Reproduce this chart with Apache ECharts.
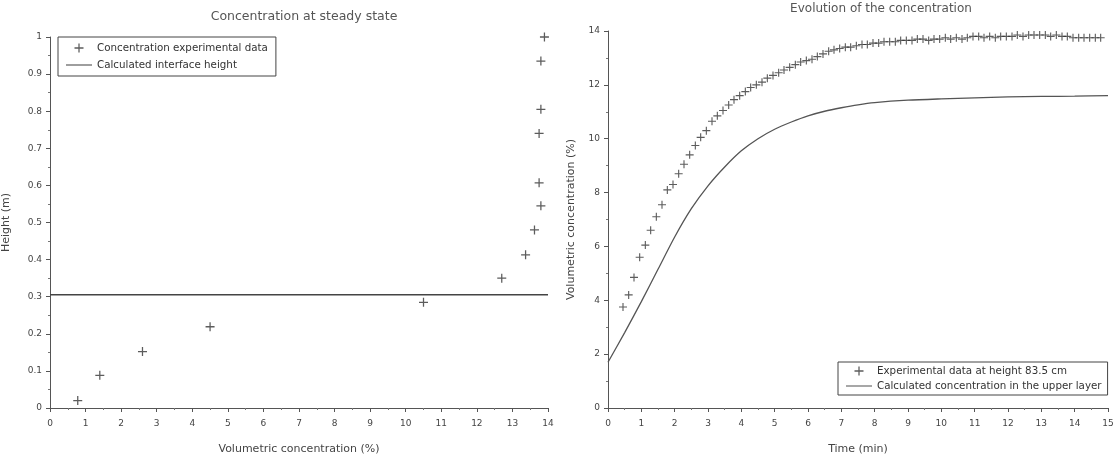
<!DOCTYPE html>
<html>
<head>
<meta charset="utf-8">
<script src="https://cdn.jsdelivr.net/npm/echarts@6/dist/echarts.min.js"></script>
<style>
  html, body { margin: 0; padding: 0; background: #fff; }
  #chart { width: 1118px; height: 460px; }
</style>
</head>
<body>
<div id="chart"></div>
<script>
// steady state profile (left)
const steadyConc = [0.78, 1.4, 2.6, 4.5, 10.5, 12.7, 13.37, 13.62, 13.8, 13.75, 13.75, 13.8, 13.8, 13.9];
const steadyHeight = [0.02, 0.088, 0.152, 0.219, 0.285, 0.35, 0.413, 0.48, 0.545, 0.607, 0.74, 0.805, 0.935, 1.0];
const interfaceHeight = 0.305;

// evolution at height 83.5 cm (right)
const expTime = [0.45, 0.62, 0.78, 0.95, 1.12, 1.28, 1.45, 1.62, 1.78, 1.95, 2.12, 2.28, 2.45, 2.62, 2.78, 2.95,
  3.12, 3.28, 3.45, 3.62, 3.78, 3.95, 4.12, 4.28, 4.45, 4.62, 4.78, 4.95, 5.12, 5.28, 5.45, 5.62, 5.78, 5.95,
  6.12, 6.28, 6.45, 6.62, 6.78, 6.95, 7.12, 7.28, 7.45, 7.62, 7.78, 7.95, 8.12, 8.28, 8.45, 8.62, 8.78, 8.95,
  9.12, 9.28, 9.45, 9.62, 9.78, 9.95, 10.12, 10.28, 10.45, 10.62, 10.78, 10.95, 11.12, 11.28, 11.45, 11.62,
  11.78, 11.95, 12.12, 12.28, 12.45, 12.62, 12.78, 12.95, 13.12, 13.28, 13.45, 13.62, 13.78, 13.95, 14.12,
  14.28, 14.45, 14.62, 14.78];
const expConc = [3.75, 4.2, 4.85, 5.6, 6.05, 6.6, 7.1, 7.55, 8.1, 8.3, 8.7, 9.05, 9.4, 9.75, 10.05, 10.3,
  10.65, 10.85, 11.05, 11.25, 11.45, 11.6, 11.75, 11.9, 12.0, 12.1, 12.25, 12.35, 12.45, 12.55, 12.65, 12.75, 12.85, 12.9,
  12.95, 13.05, 13.15, 13.25, 13.3, 13.35, 13.4, 13.4, 13.45, 13.5, 13.5, 13.55, 13.55, 13.6, 13.6, 13.6, 13.65, 13.65,
  13.65, 13.7, 13.7, 13.65, 13.7, 13.7, 13.75, 13.7, 13.75, 13.7, 13.75, 13.8, 13.8, 13.75, 13.8, 13.75,
  13.8, 13.8, 13.8, 13.85, 13.8, 13.85, 13.85, 13.85, 13.85, 13.8, 13.85, 13.8, 13.8, 13.75, 13.75,
  13.75, 13.75, 13.75, 13.75];
const calcTime = [0, 0.5, 1, 1.5, 2, 2.5, 3, 3.5, 4, 4.5, 5, 5.5, 6, 6.5, 7, 7.5, 8, 9, 10, 11, 12, 13, 14, 15];
const calcConc = [1.7, 2.8, 3.95, 5.15, 6.35, 7.4, 8.25, 8.95, 9.55, 10.0, 10.35, 10.62, 10.85, 11.02, 11.15, 11.26,
  11.34, 11.43, 11.48, 11.52, 11.55, 11.57, 11.58, 11.6];

const zip = (a, b) => a.map((v, i) => [v, b[i]]);

const FONT = "DejaVu Sans";
const plus = "path://M4.3,0h1.4v10h-1.4zM0,4.3h10v1.4h-10z";
const dash = "path://M0,0h30v1.2h-30z";
const ink = "#333";

const axisCommon = {
  axisLine: { show: true, lineStyle: { color: "#555", width: 1 } },
  axisTick: { show: true, length: 4, lineStyle: { color: "#555" } },
  minorTick: { show: true, splitNumber: 2, length: 2, lineStyle: { color: "#777" } },
  splitLine: { show: false },
  axisLabel: { color: "#444", fontSize: 9, fontFamily: FONT },
  nameLocation: "middle",
  nameTextStyle: { color: "#444", fontSize: 11, fontFamily: FONT },
};

const legendCommon = {
  orient: "vertical",
  itemWidth: 26, itemHeight: 9,
  borderColor: "#444", borderWidth: 1,
  textStyle: { fontSize: 10.3, color: "#333", fontFamily: FONT },
};

const chart = echarts.init(document.getElementById("chart"));
chart.setOption({
  backgroundColor: "#fff",
  animation: false,
  textStyle: { fontFamily: FONT },
  title: [
    { text: "Concentration at steady state", left: 299, top: 5, textAlign: "center",
      textStyle: { fontSize: 12.5, fontWeight: "normal", color: "#555", fontFamily: FONT } },
    { text: "Evolution of the concentration", left: 876, top: -2, textAlign: "center",
      textStyle: { fontSize: 12, fontWeight: "normal", color: "#555", fontFamily: FONT } },
  ],
  legend: [
    Object.assign({}, legendCommon, {
      data: [
        { name: "Concentration experimental data", icon: plus, itemStyle: { color: ink } },
        { name: "Calculated interface height", icon: dash },
      ],
      left: 58, top: 37, padding: [6, 8, 6, 8], itemGap: 7,
    }),
    Object.assign({}, legendCommon, {
      data: [
        { name: "Experimental data at height 83.5 cm", icon: plus, itemStyle: { color: ink } },
        { name: "Calculated concentration in the upper layer", icon: dash },
      ],
      left: 838, top: 362, padding: [4, 6, 4, 8], itemGap: 5,
    }),
  ],
  grid: [
    { left: 50, top: 37, width: 498, height: 375 },
    { left: 608, top: 31, width: 500, height: 382 },
  ],
  xAxis: [
    Object.assign({}, axisCommon, {
      gridIndex: 0, type: "value", min: 0, max: 14, interval: 1,
      name: "Volumetric concentration (%)", nameGap: 36,
      axisLabel: Object.assign({}, axisCommon.axisLabel, { margin: 11 }),
    }),
    Object.assign({}, axisCommon, {
      gridIndex: 1, type: "value", min: 0, max: 15, interval: 1,
      name: "Time (min)", nameGap: 36,
      axisLabel: Object.assign({}, axisCommon.axisLabel, { margin: 11 }),
    }),
  ],
  yAxis: [
    Object.assign({}, axisCommon, {
      gridIndex: 0, type: "value", min: 0, max: 1, interval: 0.1,
      name: "Height (m)", nameGap: 38,
      axisLabel: Object.assign({}, axisCommon.axisLabel, { margin: 8 }),
    }),
    Object.assign({}, axisCommon, {
      gridIndex: 1, type: "value", min: 0, max: 14, interval: 2,
      name: "Volumetric concentration (%)", nameGap: 31,
      axisLabel: Object.assign({}, axisCommon.axisLabel, { margin: 8 }),
    }),
  ],
  series: [
    {
      name: "Concentration experimental data", type: "scatter",
      xAxisIndex: 0, yAxisIndex: 0,
      symbol: plus, symbolSize: 9,
      itemStyle: { color: ink },
      data: zip(steadyConc, steadyHeight),
    },
    {
      name: "Calculated interface height", type: "line",
      xAxisIndex: 0, yAxisIndex: 0,
      symbol: "none",
      lineStyle: { color: "#444", width: 1.5 },
      itemStyle: { color: "#444" },
      data: [[0, interfaceHeight], [14, interfaceHeight]],
    },
    {
      name: "Experimental data at height 83.5 cm", type: "scatter",
      xAxisIndex: 1, yAxisIndex: 1,
      symbol: plus, symbolSize: 8,
      itemStyle: { color: ink },
      data: zip(expTime, expConc),
    },
    {
      name: "Calculated concentration in the upper layer", type: "line",
      xAxisIndex: 1, yAxisIndex: 1,
      symbol: "none", smooth: 0.25,
      lineStyle: { color: "#555", width: 1.3 },
      itemStyle: { color: "#555" },
      data: zip(calcTime, calcConc),
    },
  ],
});
</script>
</body>
</html>
